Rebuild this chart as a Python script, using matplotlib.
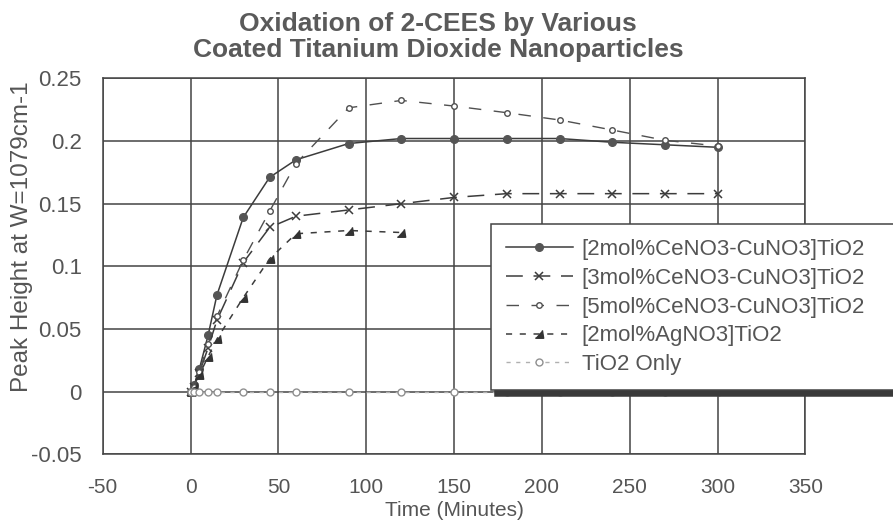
# -*- coding: utf-8 -*-
"""Oxidation of 2-CEES by coated TiO2 nanoparticles."""

import matplotlib

matplotlib.use("Agg")
import matplotlib.pyplot as plt
from matplotlib.ticker import FuncFormatter

plt.rcParams["font.family"] = ["Liberation Sans", "DejaVu Sans"]
plt.rcParams["axes.unicode_minus"] = False

# time in minutes
time = [0, 2, 5, 10, 15, 30, 45, 60, 90, 120, 150, 180, 210, 240, 270, 300]
time_ag = [0, 2, 5, 10, 15, 30, 45, 60, 90, 120]

ce2 = [0, 0.005, 0.018, 0.045, 0.077, 0.139, 0.171, 0.185,
       0.198, 0.202, 0.202, 0.202, 0.202, 0.199, 0.197, 0.195]
ce3 = [0, 0.004, 0.015, 0.035, 0.057, 0.103, 0.131, 0.140,
       0.145, 0.150, 0.155, 0.158, 0.158, 0.158, 0.158, 0.158]
ce5 = [0, 0.004, 0.016, 0.038, 0.060, 0.105, 0.144, 0.182,
       0.2265, 0.2324, 0.2279, 0.2226, 0.2168, 0.2088, 0.2006, 0.196]
ag2 = [0, 0.003, 0.0135, 0.028, 0.042, 0.075, 0.106, 0.126, 0.1286, 0.127]
tio2 = [0] * len(time)

labels = [
    "[2mol%CeNO3-CuNO3]TiO2",
    "[3mol%CeNO3-CuNO3]TiO2",
    "[5mol%CeNO3-CuNO3]TiO2",
    "[2mol%AgNO3]TiO2",
    "TiO2 Only",
]

ink = "#3c3c3c"
txt = "#555555"
tri = [(-1, -0.9), (1, -0.9), (0.7, 1)]

fig = plt.figure(figsize=(8.93, 5.2), dpi=100)
ax = fig.add_axes([0.115, 0.1263, 0.787, 0.723])

ax.plot(time, ce2, "-", color=ink, lw=1.1, marker="o", ms=5.5,
        mfc="#555555", mec="#555555", label=labels[0])
ax.plot(time, ce3, color=ink, lw=1.1, dashes=(11, 7), marker="x", ms=6,
        mew=1.1, label=labels[1])
ax.plot(time, ce5, color="#505050", lw=1.0, dashes=(9, 9), marker="o", ms=4,
        mfc="white", mec="#505050", label=labels[2])
ax.plot(time_ag, ag2, color=ink, lw=1.1, dashes=(4, 5), marker=tri, ms=6,
        mfc="#333333", mec="#333333", label=labels[3])
ax.plot(time, tio2, color="#b0b0b0", lw=1.0, dashes=(3, 4), marker="o", ms=5,
        mfc="white", mec="#909090", label=labels[4])

ax.set_xlim(-50, 350)
ax.set_ylim(-0.05, 0.25)
ax.set_xticks(range(-50, 351, 50))
ax.set_yticks([-0.05, 0, 0.05, 0.1, 0.15, 0.2, 0.25])
ax.yaxis.set_major_formatter(FuncFormatter(lambda v, p: "%g" % round(v, 3)))
ax.grid(True, color="#444444", lw=1.1)
ax.set_axisbelow(True)
for s in ax.spines.values():
    s.set_color("#444444")
    s.set_linewidth(1.1)
ax.tick_params(axis="x", length=0, pad=17, labelsize=15, labelcolor=txt)
ax.tick_params(axis="y", length=0, pad=15, labelsize=16, labelcolor=txt)

ax.set_xlabel("Time (Minutes)", fontsize=15, color=txt, labelpad=3)
ax.set_ylabel("Peak Height at W=1079cm-1", fontsize=17.5, color=txt)
ax.yaxis.set_label_coords(-0.099, 0.58)

fig.suptitle("Oxidation of 2-CEES by Various\nCoated Titanium Dioxide Nanoparticles",
             x=438 / 893, y=0.976, fontsize=19, linespacing=1.1,
             fontweight="bold", color="#5a5a5a")

leg = ax.legend(
    loc="upper left",
    bbox_to_anchor=(491 / 893, 1 - 387 / 520, 440 / 893, 163 / 520),
    bbox_transform=fig.transFigure,
    mode="expand",
    borderaxespad=0,
    borderpad=0.68,
    labelspacing=0.35,
    handlelength=3.0,
    handletextpad=0.4,
    fontsize=16,
    frameon=True,
    fancybox=False,
    shadow={"ox": 3, "oy": -4, "color": "#3a3a3a", "alpha": 1},
)
leg.get_frame().set_edgecolor("#444444")
leg.get_frame().set_linewidth(1.1)
leg.get_frame().set_alpha(1)
for t in leg.get_texts():
    t.set_color(txt)

fig.savefig("out.png", dpi=100)
